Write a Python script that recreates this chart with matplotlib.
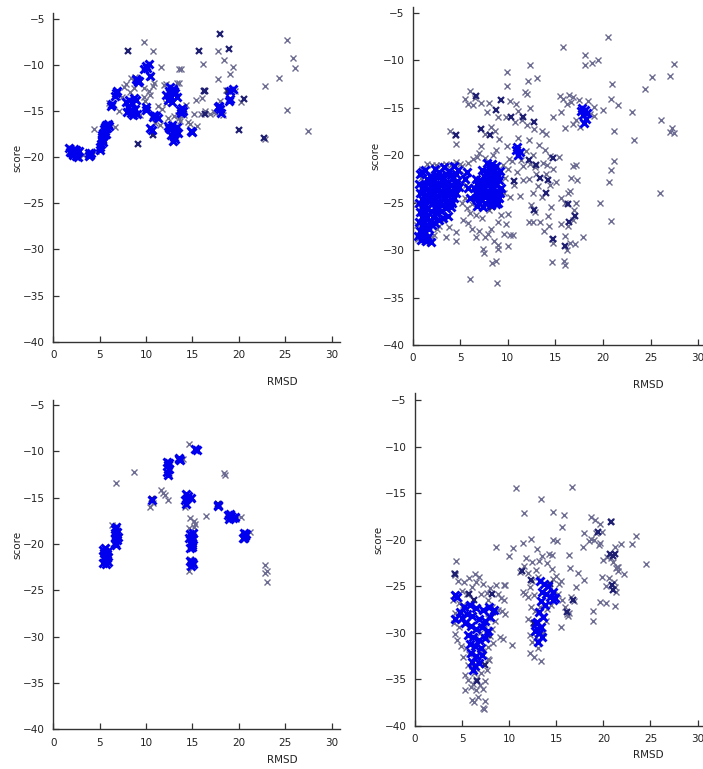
import numpy as np
import matplotlib
matplotlib.use("Agg")
import matplotlib.pyplot as plt

plt.rcParams['font.family'] = ['DejaVu Sans']

# ---- panel 1 (top left) ----
p1_gray = [
    (4.4, -17.0), (9.8, -7.5), (10.7, -8.5), (11.6, -10.3), (13.6, -10.5), (13.8, -10.5),
    (16.1, -9.9), (17.7, -8.5), (18.4, -9.5), (19.4, -10.3), (19.0, -11.0), (17.8, -11.5),
    (25.2, -7.3), (25.8, -9.3), (26.1, -10.4), (24.3, -11.4), (22.8, -12.3), (25.2, -14.9),
    (27.5, -17.2), (22.8, -18.1), (20.2, -14.0), (17.5, -15.2), (16.9, -15.3), (15.4, -13.8),
    (15.5, -16.6), (15.2, -15.3), (14.5, -16.2), (14.1, -15.5), (13.5, -15.8), (13.6, -12.0),
    (11.5, -16.5), (11.3, -14.5), (7.6, -12.4), (7.8, -12.1), (7.1, -15.0), (8.4, -11.4),
    (8.7, -12.5), (9.8, -12.5), (9.8, -13.5), (10.8, -12.3), (10.9, -12.0), (11.9, -12.2),
    (12.2, -14.2), (12.9, -18.4), (13.3, -12.0), (13.4, -15.4), (5.5, -16.6), (6.6, -16.7),
    (8.3, -13.0), (8.6, -15.6), (9.3, -15.4), (10.3, -12.8), (11.7, -14.8), (12.4, -15.8),
    (13.0, -15.6), (14.3, -14.4), (16.0, -13.6), (17.3, -15.1), (18.3, -15.4), (18.6, -12.7),
    (19.6, -12.9), (18.0, -13.9), (16.4, -15.0), (9.9, -13.9), (7.4, -13.5), (6.0, -14.1),
    (8.8, -11.3), (10.4, -13.3), (11.0, -16.3), (13.7, -16.1), (14.7, -16.4), (15.9, -15.3),
    (12.1, -12.1), (1.9, -19.0), (3.2, -19.8), (4.6, -19.3),
]
p1_navy = [
    (8.0, -8.5), (9.1, -18.6), (18.0, -6.7), (18.9, -8.3), (15.7, -8.5), (20.0, -17.1),
    (22.7, -17.9), (10.5, -11.3), (10.8, -17.6), (20.6, -13.7), (16.3, -15.3), (19.0, -13.8),
    (16.4, -12.9), (16.2, -12.9), (18.8, -12.8),
]
p1_blue = [
    (1.7, -19.0), (1.9, -19.3), (2.0, -19.6), (2.2, -19.1), (2.3, -19.5), (2.4, -19.9),
    (2.5, -19.2), (2.6, -19.6), (2.7, -20.0), (2.1, -19.8), (1.8, -19.5), (2.8, -19.4),
    (3.8, -19.6), (4.0, -19.8), (3.9, -19.9), (4.1, -19.6),
    (5.0, -18.9), (5.0, -19.2), (5.1, -18.6),
    (5.2, -18.2), (5.3, -17.8), (5.4, -17.4), (5.5, -17.0), (5.6, -16.8), (5.7, -16.5),
    (5.9, -16.4), (5.3, -18.0), (5.5, -17.6), (5.6, -17.2), (5.8, -16.9), (6.0, -16.6),
    (5.4, -18.4), (5.2, -17.6), (5.7, -17.5),
    (6.3, -14.3), (6.2, -14.5), (6.8, -13.1), (6.7, -13.4), (6.9, -12.9),
    (7.8, -14.0), (8.0, -14.6), (8.2, -13.8), (8.4, -15.2), (8.5, -14.2), (8.6, -15.5),
    (8.7, -13.6), (8.8, -14.8), (9.0, -15.3), (8.3, -14.9), (8.9, -13.8), (7.9, -15.1),
    (9.0, -11.7), (9.1, -11.9), (8.9, -11.6), (9.2, -11.8),
    (9.8, -10.5), (10.0, -10.1), (10.3, -9.9), (10.1, -10.4),
    (10.0, -14.6), (10.0, -14.9), (10.4, -11.2),
    (10.8, -15.7), (11.1, -15.6), (11.3, -15.8), (10.9, -15.5),
    (10.4, -16.9), (10.6, -17.1),
    (12.2, -13.3), (12.5, -12.9), (12.7, -13.5), (12.9, -12.6), (13.1, -13.1), (12.4, -13.8),
    (12.8, -14.0), (13.3, -13.5), (12.6, -12.4), (13.0, -12.8),
    (12.4, -16.6), (12.6, -17.0), (12.8, -16.5), (12.9, -17.4), (13.0, -17.8), (13.2, -17.2),
    (12.7, -17.6), (13.1, -18.1), (12.5, -16.9), (13.3, -16.7), (12.9, -18.3), (13.4, -17.4),
    (13.7, -14.9), (13.9, -14.7), (14.0, -15.0), (13.8, -15.2),
    (14.8, -17.2), (15.0, -17.3),
    (17.8, -14.6), (18.0, -14.8), (18.1, -15.2), (17.9, -14.5),
    (19.0, -13.7), (19.4, -12.6), (18.9, -13.9), (19.1, -12.9),
]

# ---- panel 2 (top right) ----
p2_gray = [
    (15.8, -8.6), (20.5, -7.6), (18.1, -9.5), (18.1, -10.5), (18.8, -10.3), (19.5, -10.0),
    (9.9, -11.3), (9.9, -12.7), (12.3, -10.5), (13.1, -11.9), (12.1, -12.2), (21.0, -12.5),
    (25.2, -11.8), (27.0, -11.7), (27.5, -10.4), (24.4, -13.0), (23.1, -15.5), (23.3, -18.4),
    (26.1, -16.3), (27.3, -17.1), (27.5, -17.7), (27.0, -17.6), (26.0, -24.0), (21.2, -17.5),
    (21.2, -20.6), (20.8, -21.6), (20.6, -22.8), (20.8, -26.9), (19.7, -25.0), (17.9, -28.6),
    (20.0, -15.2), (20.8, -14.1), (21.6, -14.7), (19.1, -14.9), (19.1, -15.9), (15.5, -13.8),
    (15.8, -14.1), (16.4, -13.7), (16.9, -13.9), (17.5, -14.2), (17.6, -17.0), (16.9, -16.7),
    (14.7, -16.0), (15.6, -15.5), (16.0, -17.1), (15.4, -20.2), (16.2, -14.6), (16.6, -14.4),
    (17.2, -16.3), (18.4, -14.3), (18.6, -15.7),
    (14.6, -31.3), (15.9, -31.2), (16.0, -31.6), (16.2, -30.0), (16.5, -29.3), (17.1, -29.4),
    (15.6, -27.3), (16.0, -28.5), (16.3, -27.5), (16.8, -26.8), (17.0, -25.8), (17.2, -25.0),
    (16.0, -25.0), (15.6, -24.5), (16.3, -24.0), (16.6, -22.4), (16.9, -21.2), (17.3, -22.6),
    (17.2, -21.0), (16.5, -23.8), (15.1, -22.8), (14.8, -21.5), (14.4, -23.2), (14.0, -22.0),
    (14.5, -25.5), (14.2, -26.4), (14.3, -27.5), (14.6, -28.8), (14.8, -29.3), (13.8, -28.0),
    (13.4, -27.1), (12.6, -27.1), (12.2, -27.1), (12.4, -25.3), (12.6, -24.0), (12.9, -26.0),
    (13.2, -23.3), (13.6, -24.4), (13.0, -22.0), (12.2, -22.5), (11.6, -22.6), (11.3, -24.3),
    (11.0, -21.8), (10.7, -23.2), (10.2, -24.4), (10.0, -26.2), (9.8, -27.3), (9.6, -28.3),
    (10.2, -28.4), (10.5, -28.4), (10.0, -29.6), (9.0, -29.5), (9.0, -29.9), (8.5, -29.1),
    (8.2, -27.8), (7.9, -28.3), (7.6, -28.6), (7.4, -29.9), (7.5, -30.3), (8.3, -31.4),
    (8.8, -31.2), (6.0, -33.0), (8.9, -33.5), (3.5, -28.6), (4.6, -28.1), (4.6, -29.0),
    (2.2, -28.4), (2.8, -27.5), (5.3, -26.8), (5.8, -27.2), (6.2, -27.8), (6.7, -28.6),
    (7.0, -28.0),
    (3.9, -17.5), (4.6, -18.8), (4.4, -17.9), (6.0, -13.2), (5.5, -14.1), (6.5, -14.0),
    (7.2, -14.5), (7.8, -15.5), (8.0, -14.5), (6.3, -14.7), (5.8, -14.6), (10.2, -14.3),
    (10.9, -14.6), (11.1, -15.4), (10.8, -16.5), (11.5, -16.3), (12.0, -16.8), (12.3, -15.0),
    (12.0, -13.6), (11.8, -13.4), (9.8, -16.0), (9.0, -16.0), (8.6, -17.5), (8.2, -17.0),
    (7.6, -17.8), (7.2, -19.0), (7.0, -19.8), (6.8, -20.2), (6.3, -20.4), (5.8, -20.8),
    (9.1, -18.3), (9.9, -19.0), (8.8, -19.5), (8.4, -20.0), (7.6, -20.3), (10.4, -20.6),
    (10.0, -21.5), (11.4, -20.5), (12.2, -18.4), (12.7, -17.3), (13.6, -17.5), (14.0, -17.8),
    (13.3, -18.9), (13.9, -19.5), (14.4, -20.1), (12.6, -20.0), (11.9, -19.6), (11.1, -18.2),
    (11.6, -21.2), (12.3, -20.9), (12.9, -21.3), (13.7, -20.8), (14.1, -21.0), (3.0, -21.0),
    (2.4, -21.0), (4.0, -21.0), (5.2, -21.2), (5.4, -22.0), (5.6, -23.2), (5.5, -24.5),
    (5.7, -25.6), (5.2, -25.0), (6.0, -26.1), (6.2, -25.2), (9.6, -24.0), (9.7, -22.4),
    (9.5, -21.0), (10.1, -20.4), (9.3, -26.3), (9.0, -27.0), (8.0, -25.8), (7.3, -26.6),
    (6.6, -26.3), (3.2, -26.8), (3.8, -27.6), (2.5, -27.8), (2.0, -28.6), (1.2, -29.0),
    (0.6, -28.8), (0.5, -27.4), (0.5, -25.2), (0.8, -24.0), (0.9, -22.4), (1.0, -21.5),
    (1.5, -20.9), (2.0, -21.0), (3.5, -20.9), (4.5, -20.7), (5.0, -20.9),
]
p2_navy = [
    (4.6, -17.9), (6.6, -13.8), (8.8, -15.2), (9.3, -14.2), (7.2, -17.3), (8.1, -17.9),
    (12.7, -16.5), (11.6, -16.0), (12.2, -20.5), (13.0, -21.0), (14.0, -24.0), (16.0, -29.6),
    (14.7, -28.8), (16.4, -27.0), (17.1, -26.4), (16.3, -25.2), (12.8, -25.8), (13.4, -22.4),
    (10.3, -16.0), (6.5, -24.6), (7.0, -23.3), (3.9, -24.0), (10.6, -22.7), (14.7, -20.3),
    (14.2, -22.6), (8.3, -25.5),
]
p2_blue = [
    (0.8, -22.0), (1.3, -21.6), (1.8, -22.2), (0.7, -23.0), (1.2, -23.1), (1.7, -22.9),
    (0.8, -24.0), (1.3, -24.2), (1.9, -23.8), (0.7, -25.0), (1.2, -25.2), (1.8, -24.8),
    (0.8, -26.0), (1.3, -26.1), (1.9, -25.9), (0.7, -27.0), (1.2, -27.2), (1.8, -26.9),
    (0.8, -28.0), (1.3, -28.1), (1.7, -27.8), (0.9, -28.9), (1.4, -29.1), (1.9, -29.2),
    (2.3, -27.2), (2.4, -26.1), (2.8, -26.8), (2.6, -25.5),
    (1.0, -21.8), (1.5, -22.5), (1.0, -23.5), (1.5, -23.6), (1.0, -24.6), (1.5, -24.5),
    (1.0, -25.5), (1.5, -25.6), (1.0, -26.5), (1.5, -26.5), (1.0, -27.5), (1.5, -27.5),
    (1.1, -28.5), (1.6, -28.6), (0.6, -28.5), (2.0, -27.4), (2.1, -26.5),
    (2.3, -21.5), (2.8, -21.8), (3.3, -21.3), (3.8, -21.7), (4.3, -21.2), (4.8, -21.6),
    (2.2, -22.6), (2.7, -22.9), (3.2, -22.5), (3.7, -22.8), (4.2, -22.4), (4.7, -22.7),
    (2.4, -23.7), (2.9, -23.9), (3.4, -23.6), (3.9, -23.8), (4.4, -23.5), (4.9, -23.4),
    (2.3, -24.7), (2.8, -24.9), (3.3, -24.6), (3.8, -24.8), (4.3, -24.5),
    (2.4, -25.7), (3.0, -25.9), (3.5, -25.6), (4.0, -25.5), (3.2, -26.6), (3.7, -26.4),
    (2.5, -22.1), (3.0, -22.2), (3.5, -22.0), (4.0, -22.1), (4.5, -22.0), (2.5, -23.3),
    (3.0, -23.2), (3.5, -23.1), (4.0, -23.2), (4.5, -23.0), (2.6, -24.3), (3.1, -24.2),
    (3.6, -24.2), (4.1, -24.1), (4.6, -24.0), (2.6, -25.2), (3.1, -25.3), (3.6, -25.1),
    (4.1, -25.0), (2.1, -24.2), (2.0, -25.2), (2.0, -23.3), (2.0, -22.3),
    (5.5, -22.5), (5.8, -23.5), (6.0, -24.5), (5.7, -21.8),
    (7.8, -20.8), (8.3, -20.9), (8.8, -21.2), (7.3, -21.6), (7.8, -21.8), (8.3, -21.9),
    (8.8, -22.0), (9.2, -21.7), (6.6, -22.5), (7.1, -22.6), (7.6, -22.7), (8.1, -22.8),
    (8.6, -22.9), (9.1, -22.6), (6.4, -23.5), (6.9, -23.6), (7.4, -23.7), (7.9, -23.8),
    (8.4, -23.6), (8.9, -23.9), (9.3, -23.5), (6.6, -24.5), (7.1, -24.6), (7.6, -24.4),
    (8.1, -24.7), (8.6, -24.6), (9.1, -24.5), (6.8, -25.4), (7.4, -25.5), (8.2, -25.3),
    (8.8, -25.2),
    (8.0, -21.3), (8.5, -21.5), (7.5, -22.2), (8.0, -22.3), (8.5, -22.4), (9.0, -22.2),
    (6.8, -23.0), (7.3, -23.1), (7.8, -23.2), (8.3, -23.3), (8.8, -23.2), (6.7, -24.0),
    (7.2, -24.1), (7.7, -24.2), (8.2, -24.2), (8.7, -24.1), (9.2, -24.0), (7.0, -25.0),
    (7.6, -25.0), (8.4, -24.9), (9.0, -25.0),
    (17.8, -15.0), (18.1, -15.2), (18.3, -15.6), (17.9, -15.8), (18.2, -16.2), (18.0, -16.6),
    (17.7, -15.4),
    (11.0, -19.2), (11.3, -19.7), (11.1, -20.0), (10.9, -19.5),
]

# ---- panel 3 (bottom left) ----
p3_gray = [
    (6.3, -17.9), (6.8, -13.4), (8.7, -12.2), (10.4, -16.0), (10.8, -15.6), (11.6, -14.2),
    (11.8, -14.5), (12.0, -14.7), (12.4, -15.2), (14.0, -10.8), (14.6, -9.2), (14.2, -16.0),
    (14.7, -17.2), (15.3, -17.8), (15.2, -17.5), (16.5, -17.0), (14.6, -18.3), (14.7, -21.6),
    (14.6, -22.9), (18.4, -12.3), (18.5, -12.5), (20.2, -17.1), (21.2, -18.7), (22.8, -22.3),
    (23.0, -22.9), (22.8, -23.1), (23.0, -24.1), (12.3, -11.0), (5.6, -20.3), (6.9, -18.1),
    (19.7, -17.3), (15.2, -18.2), (12.5, -12.4),
]
p3_navy = [
    (15.4, -9.8), (13.6, -10.9), (10.6, -15.1), (17.8, -15.7), (14.9, -15.0), (19.2, -17.0),
    (20.7, -19.0),
]
p3_blue = [
    (5.4, -20.6), (5.6, -20.9), (5.8, -21.1), (5.5, -21.4), (5.7, -21.7), (5.9, -21.9),
    (5.4, -22.1), (5.6, -20.4), (5.8, -21.5), (5.5, -21.0), (5.7, -22.2), (5.9, -20.7),
    (6.7, -18.4), (6.9, -18.7), (6.8, -19.0), (6.6, -19.3), (6.9, -19.6), (6.7, -19.9),
    (6.8, -20.1), (7.0, -19.2), (6.6, -18.8), (6.8, -18.2),
    (12.3, -11.1), (12.4, -11.5), (12.5, -11.9), (12.3, -12.2), (12.4, -12.5), (12.5, -11.3),
    (13.5, -10.8), (13.7, -10.9), (13.6, -10.7), (15.3, -9.7), (15.5, -9.8), (10.6, -15.2),
    (14.3, -14.6), (14.4, -15.0), (14.2, -15.3), (14.3, -15.7), (14.5, -14.8), (14.8, -15.0),
    (14.7, -18.9), (14.9, -19.2), (15.1, -19.5), (14.8, -19.8), (15.0, -20.1), (14.7, -20.4),
    (15.1, -18.8), (14.9, -20.3), (14.6, -19.4), (15.0, -19.9),
    (14.7, -21.8), (14.9, -22.0), (15.1, -22.2), (14.8, -22.4), (15.0, -21.9),
    (17.8, -15.8), (17.7, -15.9),
    (18.8, -16.9), (19.0, -17.1), (19.2, -17.0), (19.4, -17.2), (18.9, -17.3), (19.6, -17.1),
    (19.1, -16.8),
    (20.6, -18.8), (20.7, -19.1), (20.5, -19.3), (20.8, -18.9), (20.6, -19.4),
]

# ---- panel 4 (bottom right) ----
p4_gray = [
    (16.7, -14.4), (10.7, -14.5), (13.4, -15.6), (11.6, -17.1), (14.6, -17.0), (15.8, -17.4),
    (15.6, -18.7), (18.7, -17.6), (20.8, -18.0), (19.6, -18.3), (19.2, -19.3), (23.5, -19.6),
    (23.0, -20.5), (21.9, -20.5), (24.5, -22.6), (22.2, -23.7), (21.2, -27.1), (18.9, -28.8),
    (18.9, -27.7), (15.5, -29.4), (13.4, -33.1), (4.4, -22.3), (8.6, -20.8), (10.4, -20.9),
    (10.0, -21.8), (12.3, -19.9), (11.5, -20.4), (12.4, -22.4), (14.7, -20.0), (15.1, -20.2),
    (16.3, -21.7), (16.5, -23.1), (10.3, -31.3), (12.2, -32.2), (12.6, -32.6), (9.5, -24.9),
    (9.2, -27.7), (9.0, -30.5), (7.8, -32.8), (6.1, -37.2), (7.4, -37.3), (7.2, -38.1),
    (5.3, -36.2), (4.1, -23.6), (17.3, -23.6), (17.9, -24.3), (17.1, -25.1), (17.9, -19.3),
    (19.8, -19.2), (20.0, -22.2), (19.9, -24.0), (20.3, -25.0), (19.6, -26.7), (20.3, -26.8),
    (21.3, -25.6), (21.4, -22.9), (21.0, -22.4), (21.6, -23.4), (21.2, -20.8), (19.6, -20.4),
    (18.7, -19.9), (19.1, -17.9), (17.8, -20.8),
    (20.4, -21.9), (20.8, -22.0), (21.3, -23.0), (21.6, -22.9), (20.6, -24.1), (21.1, -24.6),
    (21.2, -25.1), (19.0, -20.0), (18.5, -20.2), (19.5, -20.6),
    (4.2, -23.8), (4.6, -24.5), (5.2, -24.6), (5.7, -24.1), (6.4, -23.7), (6.8, -24.0),
    (7.2, -24.8), (7.6, -25.7), (8.0, -25.2), (8.6, -24.9), (8.8, -25.8), (9.1, -26.3),
    (9.4, -26.5), (9.6, -24.9), (9.6, -28.0), (9.3, -30.7), (8.8, -27.6), (8.5, -28.8),
    (8.2, -29.6), (8.0, -30.4), (8.3, -31.1), (7.8, -31.5), (7.9, -32.9), (7.6, -34.0),
    (7.4, -35.2), (7.2, -36.1), (6.9, -35.6), (6.5, -36.2), (6.2, -35.5), (5.9, -35.8),
    (5.6, -35.1), (5.3, -34.6), (5.6, -33.5), (5.1, -32.6), (4.9, -31.4), (4.5, -30.8),
    (4.3, -30.1), (4.1, -29.0), (4.2, -27.9), (4.0, -26.5), (4.3, -25.8), (4.7, -26.8),
    (5.0, -25.5), (5.5, -25.8), (6.0, -25.1), (6.5, -24.6), (7.0, -25.9), (7.8, -26.5),
    (8.2, -27.2), (7.7, -28.4), (7.3, -29.1), (6.9, -30.0), (7.5, -30.5), (7.1, -32.0),
    (6.7, -33.0), (6.3, -34.3), (6.0, -33.6), (5.7, -32.3), (5.4, -31.6), (4.7, -29.4),
    (4.4, -28.4), (5.1, -27.0), (6.3, -37.4), (7.3, -38.2), (6.5, -35.0), (7.0, -34.3),
    (6.7, -36.9),
    (11.2, -23.5), (11.6, -22.8), (12.0, -23.6), (11.7, -25.8), (12.0, -26.2), (11.5, -25.6),
    (12.4, -24.4), (12.2, -25.1), (12.6, -26.0), (12.3, -27.2), (12.0, -28.5), (12.5, -29.0),
    (12.2, -30.2), (12.4, -31.0), (12.8, -30.5), (13.1, -31.7), (13.6, -30.0), (13.9, -28.7),
    (14.0, -27.5), (14.4, -27.0), (14.8, -26.5), (15.2, -25.8), (15.6, -26.5), (15.9, -27.2),
    (16.2, -28.2), (15.3, -24.8), (15.5, -24.4), (15.0, -23.9), (14.5, -23.2), (14.0, -22.5),
    (13.5, -21.8), (13.0, -21.0), (13.2, -22.3), (14.2, -21.6), (14.5, -21.7), (12.8, -23.3),
    (13.1, -24.0), (11.8, -22.0), (16.6, -26.2), (16.9, -26.6), (16.3, -27.9), (16.1, -28.0),
    (14.7, -24.2), (14.2, -25.0), (12.7, -27.7), (13.3, -27.2),
]
p4_navy = [
    (4.3, -23.7), (8.2, -25.8), (5.7, -25.9), (6.3, -26.5), (8.3, -27.8), (7.8, -30.2),
    (7.4, -33.5), (6.6, -35.2), (14.3, -24.8), (16.1, -27.8), (16.8, -26.5), (11.4, -23.4),
    (12.3, -24.3), (19.4, -19.2), (20.8, -18.1), (21.0, -21.8), (20.9, -24.9), (21.2, -21.5),
    (12.6, -29.0), (21.0, -25.4), (20.7, -21.6),
]
p4_blue = [
    (13.3, -24.5), (13.7, -24.8), (14.1, -25.0), (13.5, -25.6), (13.9, -25.9), (14.3, -26.2),
    (14.7, -26.5), (14.6, -25.6), (14.9, -26.3), (13.4, -26.6), (13.8, -27.0), (13.2, -27.8),
    (13.6, -28.3), (13.0, -28.9), (13.4, -29.4), (13.2, -30.0), (13.5, -30.5), (13.1, -31.0),
    (13.0, -29.6), (12.8, -29.0), (12.7, -29.8),
    (5.2, -27.2), (5.8, -27.0), (6.5, -27.3), (7.2, -27.6), (5.5, -28.0), (6.1, -28.2),
    (6.8, -28.5), (7.4, -28.8), (8.0, -28.3), (5.3, -29.0), (5.9, -29.3), (6.5, -29.6),
    (7.1, -29.4), (7.7, -29.8), (5.6, -30.2), (6.2, -30.5), (6.8, -30.8), (7.4, -30.6),
    (5.8, -31.2), (6.4, -31.4), (7.0, -31.6), (5.9, -32.2), (6.5, -32.5), (7.1, -32.4),
    (6.0, -33.2), (6.4, -33.6), (6.8, -33.3), (6.2, -34.0), (4.3, -26.0), (4.5, -26.2),
    (5.0, -28.4), (4.8, -27.8), (7.9, -27.2), (8.4, -27.6), (4.3, -28.5),
]

x_ticks = [0, 5, 10, 15, 20, 25, 30]
y_ticks = [-40, -35, -30, -25, -20, -15, -10, -5]

# (left, bottom, width, height) in figure fractions, x max, y top, xlabel offset
panels = [
    (p1_gray, p1_navy, p1_blue, (0.0758, 0.5557, 0.4078, 0.4274), 30.9, -4.4, -0.108),
    (p2_gray, p2_navy, p2_blue, (0.5871, 0.5514, 0.4194, 0.4399), 31.0, -4.37, -0.104),
    (p3_gray, p3_navy, p3_blue, (0.0758, 0.0516, 0.4078, 0.4277), 30.9, -4.5, -0.078),
    (p4_gray, p4_navy, p4_blue, (0.5903, 0.0563, 0.4154, 0.4320), 31.0, -4.3, -0.072),
]

GRAY = '#6c6c92'
NAVY = '#1e1e72'
BLUE = '#0000ee'

fig = plt.figure(figsize=(7.03, 7.69), dpi=100)

for gray, navy, blue, rect, xmax, ytop, lab_y in panels:
    ax = fig.add_axes(rect)
    for pts, col, ms, mew in [(gray, GRAY, 5, 1.0), (navy, NAVY, 5, 1.6), (blue, BLUE, 6, 2.1)]:
        xs = [p[0] for p in pts]
        ys = [p[1] for p in pts]
        ax.plot(xs, ys, 'x', color=col, markersize=ms, markeredgewidth=mew, clip_on=False)
    ax.set_xlim(0, xmax)
    ax.set_ylim(-40, ytop)
    ax.set_xticks(x_ticks)
    ax.set_yticks(y_ticks)
    ax.spines['top'].set_visible(False)
    ax.spines['right'].set_visible(False)
    for s in ('left', 'bottom'):
        ax.spines[s].set_color('#333333')
        ax.spines[s].set_linewidth(1.0)
    ax.tick_params(direction='in', length=4, width=0.9, color='#333333',
                   labelsize=7.5, labelcolor='#222222')
    ax.tick_params(axis='y', pad=6)
    ax.tick_params(axis='x', pad=6)
    ax.set_xlabel('RMSD', fontsize=7.5, color='#222222')
    ax.set_ylabel('score', fontsize=7.5, color='#222222')
    ax.xaxis.set_label_coords(0.80, lab_y)
    ax.yaxis.set_label_coords(-0.108, 0.56)

fig.savefig('out.png', dpi=100)
